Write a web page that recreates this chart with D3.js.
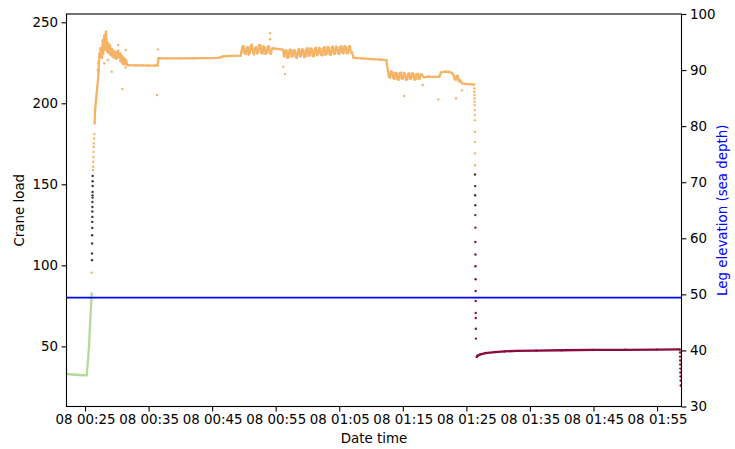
<!DOCTYPE html>
<html>
<head>
<meta charset="utf-8">
<script src="https://cdn.jsdelivr.net/npm/d3@7"></script>
<style>
body { margin: 0; background: #fff; }
text { font-family: "DejaVu Sans", sans-serif; }
</style>
</head>
<body>
<svg id="chart" width="735" height="449"></svg>
<script>
// crane load samples, [time, load], grouped by colour class
const greenTrace = [
	["00:22:10", 33.0], ["00:22:40", 32.8], ["00:23:10", 32.6], ["00:23:40", 32.5],
	["00:24:10", 32.3], ["00:24:40", 32.2], ["00:25:10", 32.2], ["00:25:16", 32.2],
	["00:25:28", 41.5], ["00:25:38", 50.8], ["00:25:47", 63.1], ["00:25:57", 75.5],
	["00:26:03", 82.7]
];
const darkRise = [
	["00:26:06", 103.2], ["00:26:06", 107.3], ["00:26:07", 113.5], ["00:26:07", 118.6],
	["00:26:08", 123.1], ["00:26:08", 126.8], ["00:26:09", 129.9], ["00:26:09", 133.2],
	["00:26:10", 136.0], ["00:26:10", 139.1], ["00:26:11", 141.8], ["00:26:11", 143.2],
	["00:26:11", 145.3], ["00:26:12", 149.0], ["00:26:12", 151.9], ["00:26:12", 155.2]
];
const orangeRise = [
	["00:26:03", 95.5],
	["00:26:15", 158.7], ["00:26:16", 160.8], ["00:26:17", 163.9], ["00:26:19", 166.9],
	["00:26:20", 170.0], ["00:26:22", 173.1], ["00:26:23", 175.2], ["00:26:25", 178.3],
	["00:26:27", 181.0]
];
const orangeTrace = [
	["00:26:30", 187.6], ["00:26:35", 196.0], ["00:26:45", 203.0], ["00:26:55", 210.0],
	["00:27:03", 214.4], ["00:27:08", 219.5], ["00:27:12", 226.0], ["00:27:16", 230.5],
	["00:27:22", 229.0], ["00:27:27", 234.0], ["00:27:31", 228.5], ["00:27:36", 233.0],
	["00:27:40", 228.0], ["00:27:47", 239.0], ["00:27:51", 230.5], ["00:27:55", 235.0],
	["00:28:02", 241.8], ["00:28:06", 233.0], ["00:28:09", 238.0], ["00:28:18", 244.2],
	["00:28:25", 238.0], ["00:28:29", 232.0], ["00:28:33", 236.0], ["00:28:40", 237.0],
	["00:28:44", 231.0], ["00:28:47", 234.5], ["00:28:56", 235.5], ["00:29:00", 230.0],
	["00:29:05", 233.0], ["00:29:15", 233.5], ["00:29:19", 229.0], ["00:29:24", 232.0],
	["00:29:34", 232.0], ["00:29:38", 228.0], ["00:29:43", 231.0], ["00:29:53", 231.5],
	["00:29:57", 227.5], ["00:30:02", 230.5], ["00:30:12", 232.5], ["00:30:16", 228.5],
	["00:30:21", 231.0], ["00:30:31", 231.0], ["00:30:35", 226.0], ["00:30:40", 229.5],
	["00:30:49", 229.0], ["00:30:54", 224.5], ["00:30:59", 228.0], ["00:31:08", 228.0],
	["00:31:12", 224.0], ["00:31:17", 227.0], ["00:31:27", 226.5], ["00:31:37", 223.6],
	["00:32:00", 223.5], ["00:33:00", 223.4], ["00:34:00", 223.4], ["00:35:00", 223.3],
	["00:36:00", 223.3], ["00:36:25", 223.3],
	["00:36:35", 227.8], ["00:38:00", 227.7], ["00:40:00", 227.7], ["00:42:00", 227.8],
	["00:44:00", 227.9], ["00:46:00", 228.0], ["00:46:45", 229.0], ["00:48:00", 229.2],
	["00:49:30", 229.4],
	["00:49:35", 231.5], ["00:49:45", 234.6], ["00:49:55", 235.2], ["00:50:05", 231.2],
	["00:50:15", 230.4], ["00:50:25", 233.9], ["00:50:35", 234.8], ["00:50:45", 230.1],
	["00:50:55", 231.0], ["00:51:05", 235.4], ["00:51:15", 236.1], ["00:51:25", 231.7],
	["00:51:35", 230.2], ["00:51:45", 233.8], ["00:51:55", 234.5], ["00:52:05", 230.9],
	["00:52:15", 232.0], ["00:52:25", 236.0], ["00:52:35", 235.6], ["00:52:45", 231.3],
	["00:52:55", 230.8], ["00:53:05", 235.1], ["00:53:15", 234.2], ["00:53:25", 230.5],
	["00:53:35", 231.3], ["00:53:45", 234.8], ["00:53:55", 235.0], ["00:54:05", 231.0],
	["00:54:15", 230.6], ["00:54:25", 233.8],
	["00:54:45", 233.9], ["00:55:15", 233.6], ["00:55:45", 233.3], ["00:56:10", 233.0],
	["00:56:20", 229.0], ["00:56:30", 232.0], ["00:56:40", 232.6], ["00:56:50", 228.2],
	["00:57:00", 228.4], ["00:57:10", 232.5], ["00:57:20", 233.1], ["00:57:30", 228.9],
	["00:57:40", 229.2], ["00:57:50", 232.8], ["00:58:00", 232.4], ["00:58:10", 228.5],
	["00:58:20", 228.1], ["00:58:30", 232.2], ["00:58:40", 233.6], ["00:58:50", 229.0],
	["00:59:00", 229.5], ["00:59:10", 233.3], ["00:59:20", 232.9], ["00:59:30", 228.6],
	["00:59:40", 228.8], ["00:59:50", 233.1], ["01:00:00", 234.0], ["01:00:10", 229.4],
	["01:00:20", 229.7], ["01:00:30", 233.8], ["01:00:40", 233.2], ["01:00:50", 229.3],
	["01:01:00", 229.1], ["01:01:10", 233.5], ["01:01:20", 234.3], ["01:01:30", 229.8],
	["01:01:40", 230.2], ["01:01:50", 234.1], ["01:02:00", 233.6], ["01:02:10", 229.9],
	["01:02:20", 229.6], ["01:02:30", 233.9], ["01:02:40", 234.6], ["01:02:50", 230.1],
	["01:03:00", 230.4], ["01:03:10", 234.7], ["01:03:20", 234.0], ["01:03:30", 230.3],
	["01:03:40", 230.0], ["01:03:50", 234.2], ["01:04:00", 235.0], ["01:04:10", 230.6],
	["01:04:20", 230.8], ["01:04:30", 234.9], ["01:04:40", 234.4], ["01:04:50", 230.9],
	["01:05:00", 230.5], ["01:05:10", 234.6], ["01:05:20", 235.1], ["01:05:30", 231.2],
	["01:05:40", 231.0], ["01:05:50", 235.3], ["01:06:00", 234.7], ["01:06:10", 231.1],
	["01:06:20", 230.9], ["01:06:30", 234.8], ["01:06:40", 235.2], ["01:06:50", 231.4],
	["01:07:00", 231.5],
	["01:07:15", 228.1], ["01:08:30", 227.7], ["01:10:00", 227.3], ["01:11:30", 226.9],
	["01:12:25", 226.6],
	["01:12:40", 219.8], ["01:12:50", 216.4], ["01:13:00", 215.9], ["01:13:10", 219.6],
	["01:13:20", 219.2], ["01:13:30", 215.7], ["01:13:40", 215.1], ["01:13:50", 218.8],
	["01:14:00", 218.6], ["01:14:10", 214.9], ["01:14:20", 214.6], ["01:14:30", 218.4],
	["01:14:40", 218.9], ["01:14:50", 215.2], ["01:15:00", 215.4], ["01:15:10", 218.7],
	["01:15:20", 218.1], ["01:15:30", 214.5], ["01:15:40", 214.8], ["01:15:50", 218.0],
	["01:16:00", 218.4], ["01:16:10", 215.1], ["01:16:20", 215.6], ["01:16:30", 218.5],
	["01:16:40", 217.9], ["01:16:50", 214.7], ["01:17:00", 214.9], ["01:17:10", 217.8],
	["01:17:20", 218.2], ["01:17:30", 215.0], ["01:17:40", 215.3], ["01:17:50", 218.0],
	["01:18:00", 217.6], ["01:18:20", 216.0],
	["01:19:00", 216.5], ["01:20:00", 216.3], ["01:20:45", 216.4],
	["01:21:00", 219.0], ["01:21:40", 219.6], ["01:22:20", 219.3], ["01:22:44", 218.8],
	["01:23:00", 217.2], ["01:23:10", 215.0], ["01:23:20", 214.6], ["01:23:30", 216.9],
	["01:23:40", 216.8], ["01:23:50", 213.6], ["01:24:00", 214.2], ["01:24:20", 212.4],
	["01:24:50", 212.0], ["01:25:20", 211.8], ["01:25:50", 211.7], ["01:26:15", 211.5]
];
const orangeOutliers = [
	["00:27:06", 224.7], ["00:27:00", 220.5], ["00:28:34", 226.7], ["00:28:02", 224.7],
	["00:29:12", 219.5], ["00:30:14", 236.0], ["00:31:24", 232.9], ["00:30:52", 208.8],
	["00:31:24", 222.0], ["00:36:28", 233.3], ["00:36:20", 205.1], ["00:54:06", 243.2],
	["00:54:06", 239.5], ["00:56:12", 222.6], ["00:56:28", 218.0], ["01:15:14", 204.5],
	["01:18:08", 211.3], ["01:20:35", 202.4], ["01:23:22", 203.0], ["01:24:19", 208.0]
];
const orangeDrop = [
	["01:26:16", 209.2], ["01:26:16", 207.1], ["01:26:17", 205.1], ["01:26:17", 203.0],
	["01:26:18", 200.9], ["01:26:18", 198.9], ["01:26:19", 195.8], ["01:26:19", 192.7],
	["01:26:20", 189.6], ["01:26:20", 182.4], ["01:26:21", 176.2], ["01:26:21", 169.1],
	["01:26:22", 161.8]
];
const darkDrop = [
	["01:26:22", 156.1], ["01:26:23", 148.9], ["01:26:23", 143.3], ["01:26:24", 137.1],
	["01:26:24", 131.0]
];
const maroonDrop = [
	["01:26:25", 123.3], ["01:26:25", 114.4], ["01:26:26", 106.7], ["01:26:26", 99.4],
	["01:26:27", 91.4], ["01:26:27", 84.2], ["01:26:28", 78.0], ["01:26:28", 70.6],
	["01:26:29", 67.5], ["01:26:29", 60.9], ["01:26:30", 54.8]
];
const maroonTrace = [
	["01:26:38", 43.4], ["01:26:45", 44.2], ["01:27:10", 45.0], ["01:28:00", 45.9],
	["01:29:30", 46.5], ["01:31:00", 46.9], ["01:33:00", 47.2], ["01:36:00", 47.4],
	["01:40:00", 47.6], ["01:45:00", 47.8], ["01:50:00", 47.9], ["01:55:00", 48.0],
	["01:58:35", 48.1]
];
const maroonEnd = [
	["01:58:38", 46.2], ["01:58:38", 43.7], ["01:58:39", 41.3], ["01:58:40", 38.8],
	["01:58:41", 36.3], ["01:58:41", 33.9], ["01:58:42", 31.4], ["01:58:43", 28.9],
	["01:58:44", 25.9]
];

// leg elevation (right axis)
const legElevation = 49.4;

const xTicks = ["00:25", "00:35", "00:45", "00:55", "01:05", "01:15", "01:25", "01:35", "01:45", "01:55"];
const yTicksLeft = [50, 100, 150, 200, 250];
const yTicksRight = [30, 40, 50, 60, 70, 80, 90, 100];

const day = "2021-06-08 ";
const parseT = d3.timeParse("%Y-%m-%d %H:%M:%S");
const parseTick = d3.timeParse("%Y-%m-%d %H:%M");
const toPts = arr => arr.map(d => ({t: parseT(day + d[0]), v: d[1]}));

const margin = {left: 66.5, right: 53.5, top: 14, bottom: 42.5};
const W = 735, H = 449;
const fontSize = "13.4px";

const svg = d3.select("#chart");

const x = d3.scaleTime()
	.domain([parseT(day + "00:22:05"), parseT(day + "01:58:51")])
	.range([margin.left, W - margin.right]);
const y = d3.scaleLinear().domain([12.9, 255.1]).range([H - margin.bottom, margin.top]);
const y2 = d3.scaleLinear().domain([30, 100]).range([H - margin.bottom, margin.top]);

const colors = {
	green: "#b5d99a",
	dark: "#3a3a3a",
	orange: "#f5b465",
	maroon: "#8c0b3d"
};

const plot = svg.append("g");

const line = d3.line().x(d => x(d.t)).y(d => y(d.v));

function drawTrace(arr, color) {
	plot.append("path")
	.datum(toPts(arr))
	.attr("d", line)
	.attr("fill", "none")
	.attr("stroke", color)
	.attr("stroke-width", 2.3)
	.attr("stroke-linejoin", "round");
	drawDots(arr, color);
}

function drawDots(arr, color) {
	plot.append("g")
	.selectAll("circle")
	.data(toPts(arr))
	.join("circle")
	.attr("cx", d => x(d.t))
	.attr("cy", d => y(d.v))
	.attr("r", 1.2)
	.attr("fill", color);
}

drawTrace(greenTrace, colors.green);
drawDots(darkRise, colors.dark);
drawDots(orangeRise, colors.orange);
drawTrace(orangeTrace, colors.orange);
drawDots(orangeOutliers, colors.orange);
drawDots(orangeDrop, colors.orange);
drawDots(darkDrop, colors.dark);
drawDots(maroonDrop, colors.maroon);
drawTrace(maroonTrace, colors.maroon);
drawDots(maroonEnd, colors.maroon);

// blue leg elevation line
plot.append("line")
.attr("x1", margin.left)
.attr("x2", W - margin.right)
.attr("y1", y2(legElevation))
.attr("y2", y2(legElevation))
.attr("stroke", "#0000ff")
.attr("stroke-width", 1.8);

// axes
const fmt = d3.timeFormat("%d %H:%M");
const xAxis = svg.append("g")
.attr("transform", `translate(0,${H - margin.bottom})`)
.call(d3.axisBottom(x).tickValues(xTicks.map(s => parseTick(day + s))).tickFormat(fmt).tickSizeOuter(0).tickSize(4.9).tickPadding(3.5));

const yAxis = svg.append("g")
.attr("transform", `translate(${margin.left},0)`)
.call(d3.axisLeft(y).tickValues(yTicksLeft).tickSizeOuter(0).tickSize(4.9).tickPadding(3.5));

const y2Axis = svg.append("g")
.attr("transform", `translate(${W - margin.right},0)`)
.call(d3.axisRight(y2).tickValues(yTicksRight).tickSizeOuter(0).tickSize(4.9).tickPadding(3.5));

[xAxis, yAxis, y2Axis].forEach(a => {
	a.selectAll("text").style("font-size", fontSize).attr("fill", "#000");
	a.selectAll("line").attr("stroke", "#000").attr("stroke-width", 1.1);
	a.select(".domain").remove();
});

// frame
svg.append("rect")
.attr("x", margin.left)
.attr("y", margin.top)
.attr("width", W - margin.left - margin.right)
.attr("height", H - margin.top - margin.bottom)
.attr("fill", "none")
.attr("stroke", "#000")
.attr("stroke-width", 1.1);

// labels
svg.append("text")
.attr("x", (margin.left + W - margin.right) / 2)
.attr("y", 443)
.style("text-anchor", "middle")
.style("font-size", fontSize)
.text("Date time");

svg.append("text")
.attr("transform", `translate(24,${(margin.top + H - margin.bottom) / 2}) rotate(-90)`)
.style("text-anchor", "middle")
.style("font-size", fontSize)
.text("Crane load");

svg.append("text")
.attr("transform", `translate(727,${(margin.top + H - margin.bottom) / 2}) rotate(-90)`)
.style("text-anchor", "middle")
.style("font-size", fontSize)
.attr("fill", "#0000ff")
.text("Leg elevation (sea depth)");
</script>
</body>
</html>
